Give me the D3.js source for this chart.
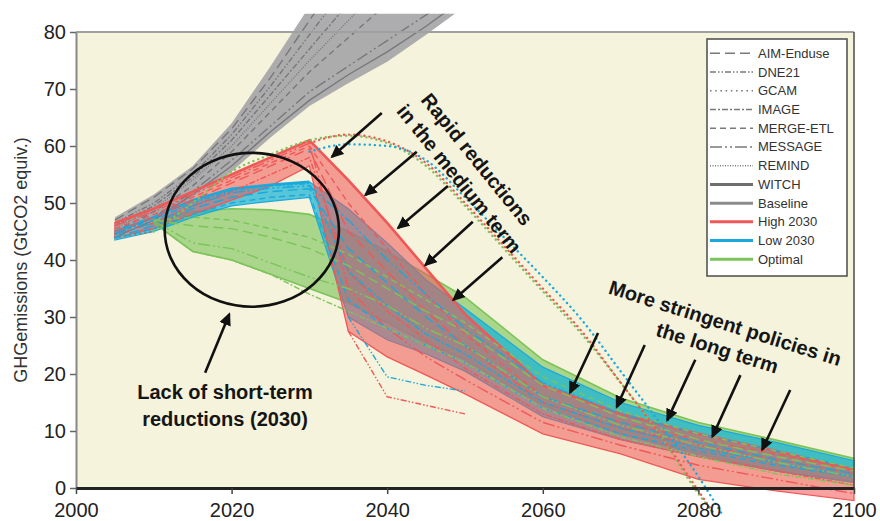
<!DOCTYPE html>
<html>
<head>
<meta charset="utf-8">
<script src="https://cdn.jsdelivr.net/npm/d3@7"></script>
<style>
html, body { margin: 0; padding: 0; background: #fff; }
svg { display: block; font-family: Arial, "Liberation Sans", Helvetica, sans-serif; }
</style>
</head>
<body>
<svg id="chart" width="880" height="521"></svg>
<script>
// ---------------- data (GtCO2 equiv.) ----------------
const years         = [2005, 2010, 2015, 2020, 2025, 2030, 2035, 2040, 2045, 2050, 2060, 2070, 2080, 2090, 2100];
const optimalYears  = [2010, 2015, 2020, 2025, 2030, 2035, 2040, 2045, 2050, 2060, 2070, 2080, 2090, 2100];
const baselineYears = [2005, 2010, 2015, 2020, 2025, 2030, 2035, 2040, 2045, 2050];

// scenario ranges
const highUpper = [46.5, 49, 52, 55, 58, 61, 54, 46.5, 38.5, 30.5, 18, 13, 9.5, 6.5, 3.2];
const highLower = [44, 45.5, 48, 50.5, 53, 56.5, 27.5, 23, 19.8, 16.5, 9.5, 6, 1.5, -0.5, -2.2];
const lowUpper  = [45, 47.5, 50.5, 52.5, 53.2, 53.7, 49, 43, 36.5, 31.5, 21.2, 15, 11, 8, 4.8];
const lowLower  = [43.5, 45, 47.5, 49.5, 50.3, 51, 30, 26, 23.5, 20.5, 12.5, 8.5, 5.5, 3, 1];
const optUpper  = [47, 48.5, 49, 48.8, 48, 45, 41.5, 37.5, 33.5, 22.5, 15.8, 11.5, 8.4, 5.2];
const optLower  = [46.5, 41.5, 40, 37.5, 35, 32.5, 29, 25.5, 22.5, 14.5, 9.5, 6, 3, 1];
const baseUpper = [47.5, 51.5, 56.5, 64, 74, 84.5, 95, 105, 115, 125];
const baseLower = [43.5, 46.5, 51, 55.5, 61.5, 67, 71, 74.8, 79.5, 84.5];

// individual baseline model runs
const baseAIM     = [47, 51, 56, 63, 72, 82, 92, 102, 112, 122];
const baseIMAGE   = [46, 49.5, 54.5, 61, 69, 77, 85, 93, 101, 109];
const baseMERGE   = [45, 48.5, 53, 59, 66, 73, 79, 85, 91, 97];
const baseMESSAGE = [44.5, 47.5, 52, 57.5, 63.5, 69.5, 74, 78.5, 83, 88];
const baseWITCH   = [44, 47, 51.5, 56.5, 62.5, 68, 72.5, 76.5, 81, 86];
const baseDNE     = [46.5, 50, 55, 62, 70.5, 79.5, 88.5, 97.5, 106.5, 115.5];
const baseREMIND  = [45.5, 49, 54, 60, 67.5, 75, 82, 89, 96, 103];

// individual High 2030 runs
const highAIM     = [45, 47.5, 50.5, 53.5, 56.5, 59.5, 45, 38, 31, 25, 15, 10.5, 7.5, 5, 2.5];
const highIMAGE   = [44.5, 46.5, 49.5, 52, 55, 58, 38, 31, 26, 21, 13, 8.5, 5.5, 3, 0.5];
const highMERGE   = [45.5, 48, 51, 54, 57, 60, 50, 42, 34, 27, 16, 11.5, 8.5, 6, 3];
const highWITCH   = [46, 48.5, 51.5, 54.5, 57.5, 60.5, 35, 28, 23, 19, 11.5, 7.5, 4, 1.5, -1];

// individual Low 2030 runs
const lowAIM      = [44, 46, 49, 51, 52, 52.5, 42, 36, 30, 25, 16, 11.5, 8, 5, 2.5];
const lowMESSAGE  = [44.5, 46.5, 49.5, 51.8, 52.6, 53, 47, 40, 34, 28, 18.5, 13, 9.5, 6.5, 3.5];
const lowMERGE    = [43.8, 45.5, 48, 50, 51, 51.5, 33, 28, 25, 22, 14, 9.5, 6.5, 4, 2];
const lowWITCH    = [44.8, 47, 50, 52.2, 53, 53.4, 38, 32, 27, 23.5, 15, 10.5, 7, 4.5, 2];

// individual Optimal runs
const optAIM      = [47, 46, 45.5, 44, 42, 39, 35, 31, 27.5, 18, 12.5, 8.5, 5.5, 3];
const optMERGE    = [47, 47.5, 47, 45.5, 44, 41, 37, 33, 29, 19.5, 13.5, 9.5, 6.5, 3.5];
const optMESSAGE  = [46.8, 43, 42, 39.5, 37, 35, 32, 28, 25, 16, 11, 7.5, 4.5, 2];
const optIMAGE    = [46.5, 41.5, 40, 37.5, 34, 31, 28, 25, 22, 14, 9, 5.5, 2.5, 0.5];

// GCAM pathways (rise to 2035, then steep decline)
const gcamBaseYears = [2005, 2010];
const gcamBase      = [44, 45];
const gcamHighYears = [2030, 2035, 2040, 2045, 2050, 2055, 2060, 2065, 2070, 2075, 2080, 2082];
const gcamHigh      = [60.5, 62, 60.8, 57, 50, 42.5, 35, 27.5, 18.5, 9.5, -0.5, -4.5];
const gcamLowYears  = [2030, 2035, 2040, 2045, 2050, 2055, 2060, 2065, 2070, 2075, 2080, 2083];
const gcamLow       = [59, 60.3, 60, 57.5, 51, 44, 37, 29.5, 20.5, 11.5, 2, -4.5];
const gcamOptYears  = [2010, 2015, 2020, 2025, 2030, 2035, 2040, 2045, 2050, 2055, 2060, 2065, 2070, 2075, 2080, 2082];
const gcamOpt       = [45, 50, 55.5, 58.5, 61, 61.8, 60.5, 56.5, 49.5, 42, 34.5, 27, 18.5, 9.5, -1, -4.5];

// DNE21 runs with an early drop
const dneYears = [2035, 2040, 2045, 2050];
const dneHigh  = [27.5, 16, 14.5, 13];
const dneLow   = [30, 19.5, 18, 17];

// axes
const xTicks = [2000, 2020, 2040, 2060, 2080, 2100];
const yTicks = [0, 10, 20, 30, 40, 50, 60, 70, 80];

// legend entries
const legendLabels = ["AIM-Enduse", "DNE21", "GCAM", "IMAGE", "MERGE-ETL", "MESSAGE",
                      "REMIND", "WITCH", "Baseline", "High 2030", "Low 2030", "Optimal"];

// ---------------- styling ----------------
const COL = { high: "#f05858", low: "#1aa9dc", lowFill: "#12b2d6", opt: "#7cc35a", model: "#7a7a7a" };
const DASH = {
  "AIM-Enduse": "10,5",
  "DNE21": "6,2,1.5,2,1.5,2",
  "GCAM": "1.6,3.6",
  "IMAGE": "6,2,2,2",
  "MERGE-ETL": "6,4",
  "MESSAGE": "12,3,2,3,2,3",
  "REMIND": "1,1.5",
  "WITCH": null
};

// ---------------- layout ----------------
const svg = d3.select("#chart");
const x = d3.scaleLinear().domain([2000, 2100]).range([76, 854]);
const y = d3.scaleLinear().domain([0, 80]).range([488, 32]);

svg.append("rect").attr("x", x(2000)).attr("y", y(80))
  .attr("width", x(2100) - x(2000)).attr("height", y(0) - y(80))
  .attr("fill", "#f5f3dc");

const defs = svg.append("defs");
defs.append("clipPath").attr("id", "topclip")
  .append("rect").attr("x", 0).attr("y", y(83.2)).attr("width", 880).attr("height", 600);
defs.append("marker").attr("id", "head")
  .attr("markerUnits", "userSpaceOnUse").attr("markerWidth", 14).attr("markerHeight", 12)
  .attr("refX", 11).attr("refY", 6).attr("orient", "auto")
  .append("path").attr("d", "M0,0 L13,6 L0,12 Z").attr("fill", "#111");

const zip = (xs, ys) => xs.map((d, i) => [d, ys[i]]);
const zip3 = (xs, lo, hi) => xs.map((d, i) => [d, lo[i], hi[i]]);

const area = d3.area().x(d => x(d[0])).y0(d => y(d[1])).y1(d => y(d[2]));
const line = d3.line().x(d => x(d[0])).y(d => y(d[1]));
const smooth = d3.line().x(d => x(d[0])).y(d => y(d[1])).curve(d3.curveMonotoneX);

// ---------------- scenario ranges ----------------
const bands = svg.append("g");
bands.append("path").attr("d", area(zip3(optimalYears, optLower, optUpper)))
  .attr("fill", COL.opt).attr("fill-opacity", 0.62)
  .attr("stroke", COL.opt).attr("stroke-width", 1.6);
bands.append("path").attr("d", area(zip3(years, lowLower, lowUpper)))
  .attr("fill", COL.lowFill).attr("fill-opacity", 0.7)
  .attr("stroke", COL.low).attr("stroke-width", 1.2);
bands.append("path").attr("d", area(zip3(years, highLower, highUpper)))
  .attr("fill", COL.high).attr("fill-opacity", 0.56)
  .attr("stroke", COL.high).attr("stroke-width", 1.3);

// baseline fan
const base = svg.append("g").attr("clip-path", "url(#topclip)");
base.append("path").attr("d", area(zip3(baselineYears, baseLower, baseUpper)))
  .attr("fill", "#a6a6a8").attr("fill-opacity", 0.92);
[[baseAIM, "AIM-Enduse"], [baseIMAGE, "IMAGE"], [baseMERGE, "MERGE-ETL"],
 [baseMESSAGE, "MESSAGE"], [baseWITCH, "WITCH"], [baseDNE, "DNE21"], [baseREMIND, "REMIND"]].forEach(([vals, m]) => {
  base.append("path").attr("d", line(zip(baselineYears, vals)))
    .attr("fill", "none").attr("stroke", "#77777c").attr("stroke-width", 1.4)
    .attr("stroke-dasharray", DASH[m]);
});

// thick edge lines
svg.append("path").attr("d", line(zip(years, highUpper)))
  .attr("fill", "none").attr("stroke", COL.high).attr("stroke-width", 2.6);
svg.append("path").attr("d", line(zip(years.slice(0, 6), lowUpper.slice(0, 6))))
  .attr("fill", "none").attr("stroke", COL.low).attr("stroke-width", 2.6);

// individual model runs
const runs = [
  [years, highAIM, COL.high, "AIM-Enduse"], [years, highIMAGE, COL.high, "IMAGE"],
  [years, highMERGE, COL.high, "MERGE-ETL"], [years, highWITCH, COL.high, "MESSAGE"],
  [years, lowAIM, COL.low, "AIM-Enduse"], [years, lowMESSAGE, COL.low, "MESSAGE"],
  [years, lowMERGE, COL.low, "MERGE-ETL"], [years, lowWITCH, COL.low, "IMAGE"],
  [optimalYears, optAIM, COL.opt, "AIM-Enduse"], [optimalYears, optMERGE, COL.opt, "MERGE-ETL"],
  [optimalYears, optMESSAGE, COL.opt, "MESSAGE"], [optimalYears, optIMAGE, COL.opt, "IMAGE"],
  [dneYears, dneHigh, COL.high, "DNE21"], [dneYears, dneLow, COL.low, "DNE21"]
];
runs.forEach(([xs, vals, c, m]) => {
  svg.append("path").attr("d", line(zip(xs, vals)))
    .attr("fill", "none").attr("stroke", c).attr("stroke-width", 1.4)
    .attr("stroke-dasharray", DASH[m]);
});

// GCAM dotted pathways
[[gcamBaseYears, gcamBase, "#8a7f88"], [gcamOptYears, gcamOpt, COL.opt],
 [gcamHighYears, gcamHigh, COL.high], [gcamLowYears, gcamLow, COL.low]].forEach(([xs, vals, c]) => {
  svg.append("path").attr("d", smooth(zip(xs, vals)))
    .attr("fill", "none").attr("stroke", c).attr("stroke-width", 2.4)
    .attr("stroke-linecap", "round").attr("stroke-dasharray", "0.1,5");
});

// ---------------- axes ----------------
svg.append("line").attr("x1", x(2000)).attr("x2", x(2100)).attr("y1", y(80)).attr("y2", y(80))
  .attr("stroke", "#a0a0a0").attr("stroke-width", 2);
svg.append("line").attr("x1", x(2100)).attr("x2", x(2100)).attr("y1", y(80)).attr("y2", y(0))
  .attr("stroke", "#555").attr("stroke-width", 1.6);

const yAxis = svg.append("g").attr("transform", `translate(${x(2000)},0)`)
  .call(d3.axisLeft(y).tickValues(yTicks).tickSize(6).tickPadding(4).tickSizeOuter(0));
yAxis.select(".domain").attr("stroke", "#888").attr("stroke-width", 2);
yAxis.selectAll(".tick line").attr("stroke", "#666").attr("stroke-width", 1.5);
yAxis.selectAll("text").attr("font-size", 20).attr("fill", "#222")
  .attr("font-family", "Arial, 'Liberation Sans', sans-serif");

const xAxis = svg.append("g").attr("transform", `translate(0,${y(0)})`)
  .call(d3.axisBottom(x).tickValues(xTicks).tickFormat(d3.format("d")).tickSize(6).tickPadding(9).tickSizeOuter(0));
xAxis.select(".domain").attr("stroke", "#222").attr("stroke-width", 3);
xAxis.selectAll(".tick line").attr("stroke", "#444").attr("stroke-width", 1.5);
xAxis.selectAll("text").attr("font-size", 20).attr("fill", "#222")
  .attr("font-family", "Arial, 'Liberation Sans', sans-serif");

svg.append("text").attr("transform", `translate(21,${(y(0) + y(80)) / 2}) rotate(-90)`)
  .attr("text-anchor", "middle").attr("dominant-baseline", "central")
  .attr("font-size", 18).attr("fill", "#333")
  .text("GHGemissions (GtCO2 equiv.)");

// ---------------- annotations ----------------
const note = svg.append("g");
// ellipse around the near-term period
const circ = { year: 2022.6, value: 45.3, dYear: 11.2, dValue: 13.5 };
note.append("ellipse")
  .attr("cx", x(circ.year)).attr("cy", y(circ.value))
  .attr("rx", x(circ.year + circ.dYear) - x(circ.year))
  .attr("ry", y(circ.value - circ.dValue) - y(circ.value))
  .attr("fill", "none").attr("stroke", "#111").attr("stroke-width", 2.6);

// arrows: [fromYear, fromValue, toYear, toValue]
const arrows = [
  [2016.6, 20.2, 2019.7, 30.5],
  [2039.3, 65.8, 2032.9, 58.1], [2043.8, 59.0, 2037.2, 51.4], [2047.8, 53.0, 2041.4, 45.6],
  [2051.0, 46.7, 2044.9, 39.1], [2054.8, 40.5, 2048.5, 33.0],
  [2067.1, 27.2, 2063.5, 16.7], [2073.1, 25.1, 2069.5, 14.2], [2079.6, 22.5, 2076.0, 11.9],
  [2085.4, 19.8, 2081.8, 9.0], [2091.8, 17.2, 2088.2, 6.7]
];
arrows.forEach(a => {
  note.append("line").attr("x1", x(a[0])).attr("y1", y(a[1])).attr("x2", x(a[2])).attr("y2", y(a[3]))
    .attr("stroke", "#111").attr("stroke-width", 2.6).attr("marker-end", "url(#head)");
});

function label(g, lines, ax, ay, angle, offsets) {
  const t = g.append("g").attr("transform", `translate(${x(ax)},${y(ay)}) rotate(${angle})`);
  lines.forEach((s, i) => {
    t.append("text").attr("x", offsets[i][0]).attr("y", offsets[i][1])
      .attr("text-anchor", "middle").attr("font-size", 20).attr("font-weight", "bold")
      .attr("fill", "#151515").text(s);
  });
}
label(note, ["Lack of short-term", "reductions (2030)"], 2019.15, 15.6, 0, [[0, 0], [0, 26.5]]);
label(note, ["Rapid reductions", "in the medium term"], 2049.8, 55.3, 51, [[-2, -12], [2, 14]]);
label(note, ["More stringent policies in", "the long term"], 2082.7, 25.75, 17.5, [[0, -12], [0, 14]]);

// ---------------- legend ----------------
const lg = svg.append("g").attr("transform", "translate(707,39)");
lg.append("rect").attr("width", 140).attr("height", 237)
  .attr("fill", "#fff").attr("stroke", "#555").attr("stroke-width", 1.6);
const legendStyle = label => {
  if (label === "High 2030") return { c: COL.high, w: 3, d: null };
  if (label === "Low 2030") return { c: COL.low, w: 3, d: null };
  if (label === "Optimal") return { c: COL.opt, w: 3, d: null };
  if (label === "Baseline") return { c: "#8c8c8c", w: 3, d: null };
  if (label === "WITCH") return { c: "#6e6e6e", w: 3, d: null };
  return { c: COL.model, w: 1.6, d: DASH[label] };
};
legendLabels.forEach((lab, i) => {
  const yy = 14.3 + i * 18.73;
  const s = legendStyle(lab);
  lg.append("line").attr("x1", 3).attr("x2", 46).attr("y1", yy).attr("y2", yy)
    .attr("stroke", s.c).attr("stroke-width", s.w).attr("stroke-dasharray", s.d);
  lg.append("text").attr("x", 51).attr("y", yy).attr("dominant-baseline", "central")
    .attr("font-size", 13).attr("fill", "#333").text(lab);
});
</script>
</body>
</html>
